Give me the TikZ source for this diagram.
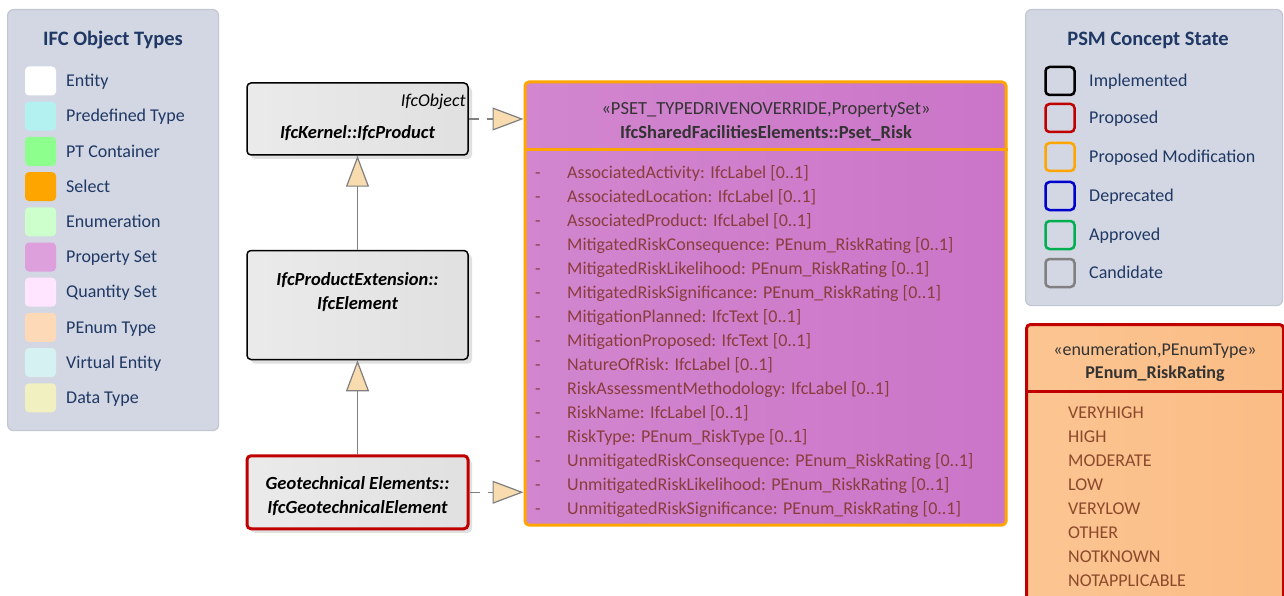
\documentclass[tikz,border=0pt]{standalone}
\usepackage{fontspec}
\setmainfont{Carlito}
\usetikzlibrary{positioning, arrows.meta, shadows}
\definecolor{keybg}{HTML}{D3D7E3}
\definecolor{keyline}{HTML}{C2C6D1}
\definecolor{navy}{HTML}{1F3864}
\definecolor{propred}{HTML}{C00000}
\definecolor{modorange}{HTML}{FFA500}
\definecolor{linegray}{HTML}{7F7F7F}
\definecolor{tipfill}{HTML}{F8DCAF}
\definecolor{attrbrown}{HTML}{8A3D3D}
\definecolor{litbrown}{HTML}{8B4A2B}
\tikzset{
x=1pt, y=-1pt, % one unit is one pixel of the reference
keybox/.style={draw=keyline, fill=keybg, line width=1.2pt, rounded corners=6pt, inner sep=0pt}, % the two key panels
keytitle/.style={font=\fontsize{20.5}{24}\selectfont\bfseries, text=navy}, % key headings
keytext/.style={font=\fontsize{18}{21}\selectfont, text=navy, anchor=west, inner sep=0pt, text height=14pt, text depth=2.5pt}, % key entries
swatch/.style={minimum width=31pt, minimum height=29pt, rounded corners=4pt, inner sep=0pt}, % colour samples
statebox/.style={swatch, line width=2.5pt, fill=keybg, minimum width=29pt, minimum height=28pt}, % border samples
classbox/.style={draw=black, line width=1.5pt, rounded corners=4pt, left color=gray!16, middle color=white, right color=gray!24, minimum width=221pt, inner sep=0pt, drop shadow={shadow xshift=4pt, shadow yshift=-4pt, fill=gray!40, opacity=0.6}}, % entity boxes
classname/.style={font=\fontsize{18.5}{24}\selectfont\bfseries\itshape, align=center}, % entity names
genarrow/.style={draw=linegray, line width=1.5pt, -{Triangle[length=31pt, width=23pt, fill=tipfill, line width=1.2pt]}}, % generalisation
realarrow/.style={genarrow, dash pattern=on 10pt off 8pt}, % realisation
attrtext/.style={font=\fontsize{18}{21}\selectfont, text=attrbrown, anchor=west, inner sep=0pt, text height=14pt, text depth=2.5pt}, % property lines
}

\begin{document}
\begin{tikzpicture}
    \clip (0,0) rectangle (1284,596);
    % key of object types
    \node[keybox, minimum width=211pt, minimum height=421pt, anchor=north west] (objkey) at (7,9) {};
    \node[keytitle] (objtitle) at (113,40) {IFC Object Types};
    \foreach \c/\t [count=\i] in {FFFFFF/Entity, B3F0F0/Predefined Type, 8CFF8C/PT Container, FFA500/Select, CCFFCC/Enumeration, DDA0DD/Property Set, FFE5FF/Quantity Set, FDD9B8/PEnum Type, D6F1F1/Virtual Entity, F0F0C0/Data Type} {
        \definecolor{sw}{HTML}{\c}
        \node[swatch, fill=sw] (obj\i) at (40.5,{45.8+35.2*\i}) {};
        \node[keytext] (objt\i) at (66,{45.8+35.2*\i}) {\t};
    }
    % key of concept states
    \node[keybox, minimum width=257pt, minimum height=296pt, anchor=north west] (statekey) at (1025,9) {};
    \node[keytitle] (statetitle) at (1148,40) {PSM Concept State};
    \foreach \y/\c/\t [count=\i] in {81/black/Implemented, 118/propred/Proposed, 157/modorange/Proposed Modification, 196/{rgb,255:red,0;green,0;blue,204}/Deprecated, 235/{rgb,255:red,0;green,176;blue,80}/Approved, 273/gray/Candidate} {
        \node[statebox, draw=\c] (st\i) at (1060,\y) {};
        \node[keytext] (stt\i) at (1089,\y) {\t};
    }
    % entity boxes
    \node[classbox, minimum height=72pt] (prod) at (357.5,119) {};
    \node[font=\fontsize{18}{21}\selectfont\itshape, anchor=north east, inner sep=0pt] (prodsup) at ([xshift=-3pt, yshift=-12pt]prod.north east) {IfcObject};
    \node[classname] (prodname) at (357.5,133) {IfcKernel::IfcProduct};
    \node[classbox, minimum height=109pt, below=94pt of prod] (elem) {};
    \node[classname] (elemname) at (357.5,292) {IfcProductExtension::\\IfcElement};
    \node[classbox, draw=propred, line width=3pt, minimum height=73pt, below=94pt of elem] (geo) {};
    \node[classname] (geoname) at (357.5,496) {Geotechnical Elements::\\IfcGeotechnicalElement};
    % property set
    \node[draw=modorange, line width=3pt, rounded corners=4pt, left color={rgb,255:red,210;green,134;blue,207}, middle color={rgb,255:red,224;green,170;blue,222}, right color={rgb,255:red,203;green,117;blue,200}, minimum width=481pt, minimum height=443pt, inner sep=0pt] (pset) at (765.5,303.5) {};
    \draw[modorange, line width=3pt] ([yshift=-69pt]pset.north west) -- ([yshift=-69pt]pset.north east);
    \node[font=\fontsize{18.5}{22}\selectfont, text=black!80] (psetst) at (766,110) {«PSET\_TYPEDRIVENOVERRIDE,PropertySet»};
    \node[font=\fontsize{18.5}{22}\selectfont\bfseries, text=black!80] (psetname) at (766,133) {IfcSharedFacilitiesElements::Pset\_Risk};
    \foreach \a [count=\i] in {{AssociatedActivity: IfcLabel [0..1]}, {AssociatedLocation: IfcLabel [0..1]}, {AssociatedProduct: IfcLabel [0..1]}, {MitigatedRiskConsequence: PEnum\_RiskRating [0..1]}, {MitigatedRiskLikelihood: PEnum\_RiskRating [0..1]}, {MitigatedRiskSignificance: PEnum\_RiskRating [0..1]}, {MitigationPlanned: IfcText [0..1]}, {MitigationProposed: IfcText [0..1]}, {NatureOfRisk: IfcLabel [0..1]}, {RiskAssessmentMethodology: IfcLabel [0..1]}, {RiskName: IfcLabel [0..1]}, {RiskType: PEnum\_RiskType [0..1]}, {UnmitigatedRiskConsequence: PEnum\_RiskRating [0..1]}, {UnmitigatedRiskLikelihood: PEnum\_RiskRating [0..1]}, {UnmitigatedRiskSignificance: PEnum\_RiskRating [0..1]}} {
        \node[attrtext] (dash\i) at (535,{149+24*\i}) {-};
        \node[attrtext] (attr\i) at (567,{149+24*\i}) {\a};
    }
    % enumeration
    \node[draw=propred, line width=3pt, rounded corners=4pt, left color={rgb,255:red,251;green,197;blue,146}, middle color={rgb,255:red,253;green,222;blue,196}, right color={rgb,255:red,251;green,188;blue,133}, minimum width=257pt, minimum height=300pt, anchor=north west, inner sep=0pt] (enum) at (1025,323) {};
    \draw[propred, line width=3pt] ([yshift=-68pt]enum.north west) -- ([yshift=-68pt]enum.north east);
    \node[font=\fontsize{18}{21}\selectfont, text=black!80] (enumst) at (1155,351) {«enumeration,PEnumType»};
    \node[font=\fontsize{18}{21}\selectfont\bfseries, text=black!80] (enumname) at (1155,374) {PEnum\_RiskRating};
    \foreach \l [count=\i] in {VERYHIGH, HIGH, MODERATE, LOW, VERYLOW, OTHER, NOTKNOWN, NOTAPPLICABLE} {
        \node[attrtext, text=litbrown] (lit\i) at (1068,{389+24*\i}) {\l};
    }
    % connectors
    \draw[genarrow] (elem) -- (prod);
    \draw[genarrow] (geo) -- (elem);
    \draw[realarrow] (prod.east) -- (prod.east -| pset.west);
    \draw[realarrow] (geo.east) -- (geo.east -| pset.west);
\end{tikzpicture}
\end{document}
